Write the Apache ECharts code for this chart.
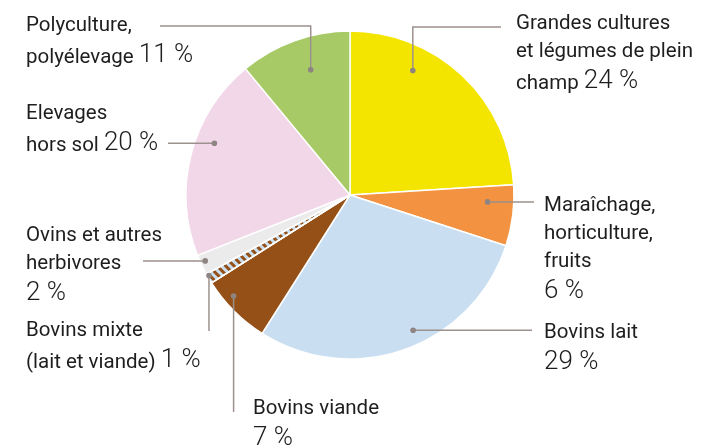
<!DOCTYPE html>
<html>
<head>
<meta charset="utf-8">
<script src="https://cdn.jsdelivr.net/npm/echarts@6/dist/echarts.min.js"></script>
<style>
  html, body { margin: 0; padding: 0; background: #fff; }
  #main { width: 703px; height: 446px; }
</style>
</head>
<body>
<div id="main"></div>
<script>
// categories, clockwise from 12 o'clock ('\n' at the end = percent on its own line)
const categories = [
  'Grandes cultures\net légumes de plein\nchamp',
  'Maraîchage,\nhorticulture,\nfruits\n',
  'Bovins lait\n',
  'Bovins viande\n',
  'Bovins mixte\n(lait et viande)',
  'Ovins et autres\nherbivores\n',
  'Elevages\nhors sol',
  'Polyculture,\npolyélevage'
]
const shares = [24, 6, 29, 7, 1, 2, 20, 11]
const colors = ['#f3e500', '#f39341', '#c9dff1', '#955017', '#955017', '#ecebeb', '#f2d7e9', '#a7ca66']

// annotation layout: where the dot sits inside the slice, how the leader runs, where the text goes
const anchorT = [0.31, 0.30, 0.45, 0.66, 0.75, 0.60, 0.59, 0.56]
const anchorR = [0.85, 0.84, 0.91, 0.94, 0.99, 0.97, 0.885, 0.80]
const routes = [
  { kind: 'vh', y: 27, x: 501 },
  { kind: 'h', x: 534 },
  { kind: 'h', x: 532 },
  { kind: 'v', y: 412 },
  { kind: 'v', y: 331 },
  { kind: 'h', x: 143 },
  { kind: 'h', x: 168 },
  { kind: 'vh', y: 26, x: 160 }
]
const labelPos = [[516, 6], [544, 188], [544, 315], [253, 391], [26, 313], [26, 218], [26, 96], [26, 8]]

const CX = 350, CY = 195, R = 164
const lineColor = '#9d918e'

var Chart = echarts.init(document.getElementById('main'))

let total = shares.reduce((a, b) => a + b, 0)
let graphics = []
let cum = 0
shares.forEach((v, i) => {
  let ang = (cum + anchorT[i] * v) / total * Math.PI * 2
  cum += v
  let px = CX + anchorR[i] * R * Math.sin(ang)
  let py = CY - anchorR[i] * R * Math.cos(ang)
  let r = routes[i]
  let pts = [[px, py]]
  if (r.kind === 'h') pts.push([r.x, py])
  else if (r.kind === 'v') pts.push([px, r.y])
  else { pts.push([px, r.y]); pts.push([r.x, r.y]) }
  graphics.push({
    type: 'polyline', silent: true, z: 10,
    shape: { points: pts },
    style: { stroke: lineColor, lineWidth: 1.5, fill: null }
  })
  graphics.push({
    type: 'circle', silent: true, z: 11,
    shape: { cx: px, cy: py, r: 2.8 },
    style: { fill: '#8e8481' }
  })
  // label text: name lines + percent
  let name = categories[i]
  let lines
  if (name.endsWith('\n')) {
    lines = name.slice(0, -1).split('\n').map(s => '{a|' + s + '}')
    lines.push('{b|' + v + ' %}')
  } else {
    lines = name.split('\n').map(s => '{a|' + s + '}')
    lines[lines.length - 1] += '{a| }{b|' + v + ' %}'
  }
  graphics.push({
    type: 'text', silent: true, z: 12,
    x: labelPos[i][0], y: labelPos[i][1],
    style: {
      text: lines.join('\n'),
      verticalAlign: 'top',
      align: 'left',
      rich: {
        a: { fontFamily: 'Roboto', fontSize: 20.5, lineHeight: 28, fill: '#1e1e1e', verticalAlign: 'bottom' },
        b: { fontFamily: 'Roboto', fontWeight: 300, fontSize: 26, lineHeight: 32, fill: '#1e1e1e', verticalAlign: 'bottom' }
      }
    }
  })
})

var option = {
  animation: false,
  series: [
    {
      type: 'pie',
      center: [CX, CY],
      radius: [0, R],
      startAngle: 90,
      clockwise: true,
      silent: true,
      label: { show: false },
      labelLine: { show: false },
      itemStyle: { borderColor: '#fff', borderWidth: 1.5 },
      data: shares.map((v, i) => {
        let item = { value: v, name: categories[i], itemStyle: { color: colors[i] } }
        if (i === 4) {
          item.itemStyle.decal = {
            symbol: 'rect',
            symbolSize: 1,
            color: '#c9dff1',
            dashArrayX: [1, 0],
            dashArrayY: [3, 3],
            rotation: Math.PI / 4
          }
        }
        return item
      })
    }
  ],
  graphic: graphics
}
Chart.setOption(option)
</script>
</body>
</html>
